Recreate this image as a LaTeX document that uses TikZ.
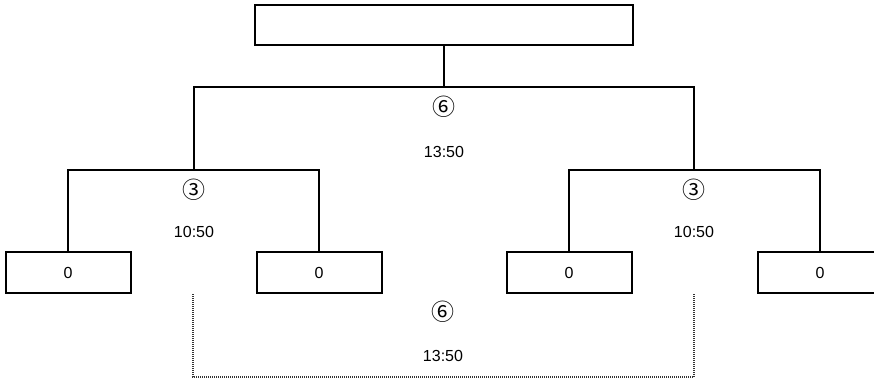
\documentclass[tikz,border=0pt]{standalone}
\usepackage{fontspec}
\setmainfont{Liberation Sans}
\newfontfamily\cjkfont{Noto Sans CJK JP}
\begin{document}
\begin{tikzpicture}[x=1pt,y=-1pt,
  every node/.style={font=\fontsize{16}{19}\selectfont},
  bx/.style={draw,line width=2pt,inner sep=0pt,minimum height=41pt,minimum width=125pt},
  conn/.style={line width=2pt},
  lbl/.style={inner sep=0pt},
  circ/.style={inner sep=0pt,font=\cjkfont\fontsize{23}{25}\selectfont},
  dotline/.style={line width=1.6pt,dash pattern=on 1pt off 1pt,color=black!80}]
\useasboundingbox (0,0) rectangle (874,381);
\node[bx,minimum width=378pt,minimum height=40pt] (top) at (444,25) {};
\node[bx] (b1) at (68,272.5) {0};
\node[bx] (b2) at (319,272.5) {0};
\node[bx] (b3) at (569,272.5) {0};
\node[bx] (b4) at (820,272.5) {0};
\coordinate (j0) at (444,87);
\coordinate (jl) at (194,170);
\coordinate (jr) at (694,170);
\draw[conn] (top.south) -- (j0);
\draw[conn] (jl) |- (j0) -| (jr);
\draw[conn] (b1.north) |- (jl) -| (b2.north);
\draw[conn] (b3.north) |- (jr) -| (b4.north);
\node[circ] (c0) at (444,107) {⑥};
\node[lbl] (t0) at (444,152) {13:50};
\node[circ] (cl) at (194,190) {③};
\node[lbl] (tl) at (194,232) {10:50};
\node[circ] (cr) at (694,190) {③};
\node[lbl] (tr) at (694,232) {10:50};
\coordinate (dl) at (193,294);
\coordinate (dr) at (694,294);
\draw[dotline] (dl) -- ++(0,83) -| (dr);
\node[circ] (c1) at (443,312) {⑥};
\node[lbl] (t1) at (443,356) {13:50};
\end{tikzpicture}
\end{document}
